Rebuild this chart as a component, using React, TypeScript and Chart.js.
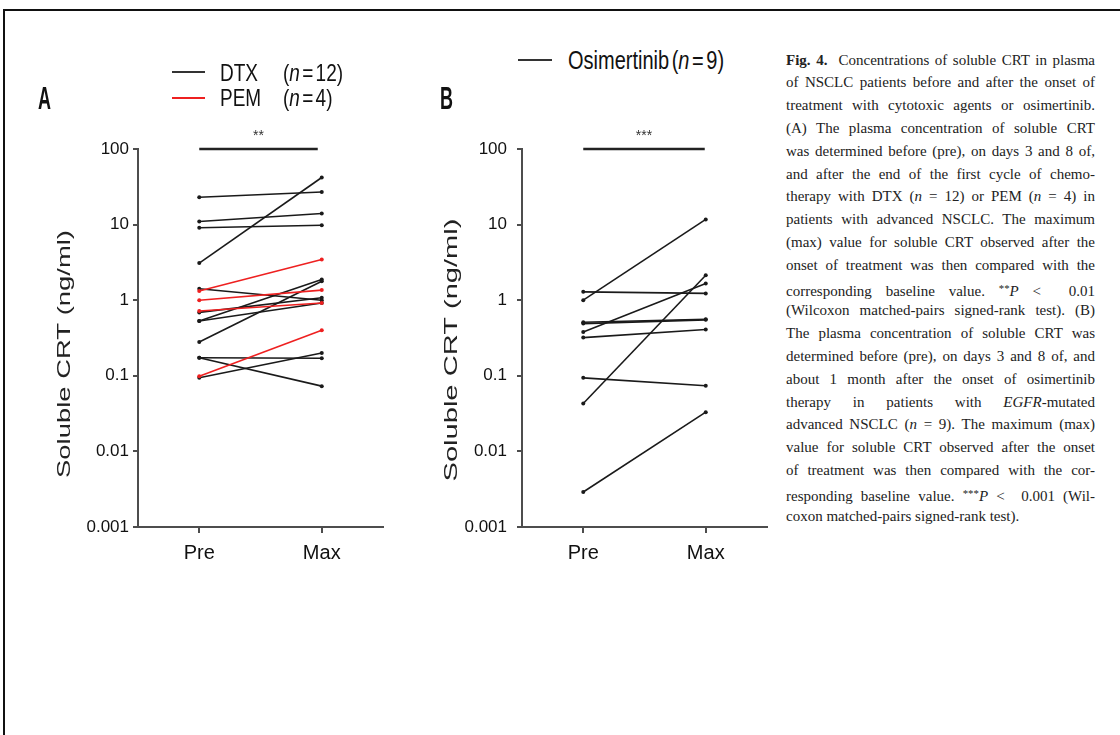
import React, { useEffect, useRef } from 'react';
import { Chart, registerables } from 'chart.js';

Chart.register(...registerables);

// ---------------- data ----------------
const categories = ['Pre', 'Max'];
const yTickValues = [0.001, 0.01, 0.1, 1, 10, 100];
const yTickLabels = ['0.001', '0.01', '0.1', '1', '10', '100'];
const yAxisTitle = 'Soluble CRT (ng/ml)';

// Panel A – DTX (n = 12)
const dtxPre = [23, 11, 9.1, 3.1, 1.42, 0.69, 0.53, 0.53, 0.28, 0.173, 0.173, 0.094];
const dtxMax = [27, 14, 9.8, 42, 1.0, 1.08, 1.88, 0.92, 1.78, 0.171, 0.073, 0.2];
// Panel A – PEM (n = 4)
const pemPre = [1.32, 1.0, 0.72, 0.099];
const pemMax = [3.45, 1.36, 0.92, 0.4];
// Panel B – Osimertinib (n = 9)
const osiPre = [1.0, 1.29, 0.38, 0.51, 0.49, 0.32, 0.094, 0.043, 0.0029];
const osiMax = [11.7, 1.23, 1.66, 0.56, 0.55, 0.41, 0.074, 2.14, 0.033];

const sigValue = 100;
const sigLabels = ['**', '***'];
const panelLetters = ['A', 'B'];
const groupNames = ['DTX', 'PEM', 'Osimertinib'];

// ---------------- styles ----------------
const BLACK = '#1a1a1a';
const RED = '#ee2020';
const AXIS = '#4d4d4d';
const SANS = '"Liberation Sans", Arial, Helvetica, sans-serif';
const SERIF = '"Liberation Serif", "Times New Roman", serif';

const lineDs = (pre: number[], max: number[], color: string) =>
  pre.map((p, i) => ({
    data: [p, max[i]],
    borderColor: color,
    backgroundColor: color,
    pointBackgroundColor: color,
    pointBorderColor: color,
    borderWidth: 1.6,
    pointRadius: 2,
    pointBorderWidth: 0,
    tension: 0,
    fill: false,
    clip: false as any,
  }));

const annotPlugin = {
  id: 'annot',
  afterDraw(chart: any, _args: any, opts: any) {
    const { ctx, chartArea } = chart;
    const x = chart.scales.x;
    const y = chart.scales.y;
    const yb = y.getPixelForValue(opts.sigValue);
    const x0 = x.getPixelForValue(0);
    const x1 = x.getPixelForValue(1);
    ctx.save();
    ctx.strokeStyle = '#222';
    ctx.lineWidth = 2.5;
    ctx.beginPath();
    ctx.moveTo(x0, yb);
    ctx.lineTo(x1 - opts.barInset, yb);
    ctx.stroke();
    ctx.fillStyle = '#333';
    ctx.font = `14px ${SANS}`;
    ctx.textAlign = 'center';
    ctx.textBaseline = 'middle';
    ctx.fillText(opts.sigLabel, (x0 + x1 - opts.barInset) / 2, yb - 13);

    // stretched y-axis title
    const t = chart.options.scales.y.title.text;
    ctx.font = `18px ${SANS}`;
    const w = ctx.measureText(t).width;
    ctx.translate(chartArea.left - opts.titleOffsetX, (chartArea.top + chartArea.bottom) / 2 + opts.titleOffsetY);
    ctx.rotate(-Math.PI / 2);
    ctx.scale(opts.titleLength / w, 1);
    ctx.fillStyle = '#222';
    ctx.fillText(t, 0, 0);
    ctx.restore();
  },
};

type PCProps = {
  left: number; top: number; width: number; height: number;
  datasets: any[]; yWidth: number; padRight: number; tickPad: number;
  sigLabel: string; titleOffsetX: number; titleOffsetY: number; titleLength: number; barInset: number;
};

function PairChart(p: PCProps) {
  const ref = useRef<HTMLCanvasElement>(null);
  useEffect(() => {
    const chart = new Chart(ref.current as HTMLCanvasElement, {
      type: 'line',
      data: { labels: categories, datasets: p.datasets },
      options: {
        responsive: false,
        maintainAspectRatio: false,
        animation: false,
        layout: { padding: { left: 0, right: p.padRight, top: 39, bottom: 0 } },
        plugins: {
          legend: { display: false },
          tooltip: { enabled: false },
          annot: {
            sigValue,
            sigLabel: p.sigLabel,
            titleOffsetX: p.titleOffsetX,
            titleOffsetY: p.titleOffsetY,
            titleLength: p.titleLength,
            barInset: p.barInset,
          },
        } as any,
        scales: {
          x: {
            type: 'category',
            offset: true,
            grid: { display: true, drawOnChartArea: false, drawTicks: true, tickLength: 6, color: AXIS, lineWidth: 2 },
            border: { display: true, color: AXIS, width: 2 },
            ticks: { color: '#111', font: { size: 20, family: SANS }, padding: 8 },
            afterFit: (s: any) => { s.height = 73; },
          },
          y: {
            type: 'logarithmic',
            min: 0.001,
            max: 100,
            afterBuildTicks: (s: any) => { s.ticks = yTickValues.map((v) => ({ value: v })); },
            ticks: {
              autoSkip: false,
              color: '#111',
              font: { size: 17, family: SANS },
              padding: p.tickPad,
              callback: (v: any) => {
                const i = yTickValues.indexOf(Number(v));
                return i >= 0 ? yTickLabels[i] : '';
              },
            },
            grid: { display: true, drawOnChartArea: false, drawTicks: true, tickLength: 5, color: AXIS, lineWidth: 2 },
            border: { display: true, color: AXIS, width: 2 },
            title: { display: false, text: yAxisTitle },
            afterFit: (s: any) => { s.width = p.yWidth; },
          } as any,
        },
      },
      plugins: [annotPlugin as any],
    });
    return () => chart.destroy();
  }, []);
  return (
    <canvas
      ref={ref}
      width={p.width}
      height={p.height}
      style={{ position: 'absolute', left: p.left, top: p.top, width: p.width, height: p.height }}
    />
  );
}

const Stretch = (props: { left: number; cy: number; size: number; scale: number; bold?: boolean; children: React.ReactNode; ws?: number }) => (
  <div
    style={{
      position: 'absolute',
      left: props.left,
      top: props.cy - props.size,
      height: props.size * 2,
      lineHeight: `${props.size * 2}px`,
      fontFamily: SANS,
      fontSize: props.size,
      fontWeight: props.bold ? 700 : 400,
      color: '#111',
      whiteSpace: 'nowrap',
      wordSpacing: props.ws ?? 0,
      transform: `scaleY(${props.scale})`,
      transformOrigin: '50% 50%',
    }}
  >
    {props.children}
  </div>
);

const LegendLine = (props: { left: number; cy: number; width: number; color: string }) => (
  <div style={{ position: 'absolute', left: props.left, top: props.cy - 1, width: props.width, height: 2, background: props.color }} />
);

const Ast = (props: { s: string }) => (
  <span style={{ fontSize: '0.72em', verticalAlign: '0.35em' }}>{props.s}</span>
);

const captionLines: React.ReactNode[] = [
  <><b>Fig. 4.</b>{'\u00a0 '}Concentrations of soluble CRT in plasma</>,
  <>of NSCLC patients before and after the onset of</>,
  <>treatment with cytotoxic agents or osimertinib.</>,
  <>(A) The plasma concentration of soluble CRT</>,
  <>was determined before (pre), on days 3 and 8 of,</>,
  <>and after the end of the first cycle of chemo-</>,
  <>therapy with DTX (<i>n</i> = 12) or PEM (<i>n</i> = 4) in</>,
  <>patients with advanced NSCLC. The maximum</>,
  <>(max) value for soluble CRT observed after the</>,
  <>onset of treatment was then compared with the</>,
  <>corresponding baseline value. <Ast s="**" /><i>P</i> {'<\u00a0'} 0.01</>,
  <>(Wilcoxon matched-pairs signed-rank test). (B)</>,
  <>The plasma concentration of soluble CRT was</>,
  <>determined before (pre), on days 3 and 8 of, and</>,
  <>about 1 month after the onset of osimertinib</>,
  <>therapy in patients with <i>EGFR</i>-mutated</>,
  <>advanced NSCLC (<i>n</i> = 9). The maximum (max)</>,
  <>value for soluble CRT observed after the onset</>,
  <>of treatment was then compared with the cor-</>,
  <>responding baseline value. <Ast s="***" /><i>P</i> {'<\u00a0'} 0.001 (Wil-</>,
  <>coxon matched-pairs signed-rank test).</>,
];

export default function App() {
  const dsA = [...lineDs(pemPre, pemMax, RED), ...lineDs(dtxPre, dtxMax, BLACK)];
  const dsB = lineDs(osiPre, osiMax, BLACK);
  const LH = 22.8;
  return (
    <div style={{ position: 'absolute', left: 0, top: 0, width: 1120, height: 735, background: '#fff', overflow: 'hidden' }}>
      {/* frame */}
      <div style={{ position: 'absolute', left: 3, top: 9, width: 1117, height: 726, borderTop: '2px solid #111', borderLeft: '2px solid #111', boxSizing: 'border-box' }} />

      <PairChart left={18} top={110} width={382} height={490} datasets={dsA} yWidth={120} padRight={17} tickPad={4}
        sigLabel={sigLabels[0]} titleOffsetX={73} titleOffsetY={16} titleLength={248} barInset={4} />
      <PairChart left={400} top={110} width={382} height={490} datasets={dsB} yWidth={122} padRight={15} tickPad={10}
        sigLabel={sigLabels[1]} titleOffsetX={70} titleOffsetY={12} titleLength={263} barInset={1} />

      {/* panel letters */}
      <Stretch left={38} cy={99} size={18} scale={1.7} bold>{panelLetters[0]}</Stretch>
      <Stretch left={440} cy={99} size={18} scale={1.7} bold>{panelLetters[1]}</Stretch>

      {/* legend A */}
      <LegendLine left={172} cy={72} width={33} color="#333" />
      <Stretch left={220} cy={73} size={19} scale={1.25}>{groupNames[0]}</Stretch>
      <Stretch left={283} cy={73} size={19} scale={1.25} ws={-3}>(<i>n</i> = {dtxPre.length})</Stretch>
      <LegendLine left={172} cy={98} width={33} color={RED} />
      <Stretch left={220} cy={98} size={19} scale={1.25}>{groupNames[1]}</Stretch>
      <Stretch left={283} cy={98} size={19} scale={1.25} ws={-3}>(<i>n</i> = {pemPre.length})</Stretch>

      {/* legend B */}
      <LegendLine left={518} cy={60} width={34} color="#333" />
      <Stretch left={568} cy={60} size={20} scale={1.25} ws={-3}>{groupNames[2]} (<i>n</i> = {osiPre.length})</Stretch>

      {/* caption */}
      <div style={{ position: 'absolute', left: 786, top: 48.6, width: 309, fontFamily: SERIF, fontSize: 15, color: '#222' }}>
        {captionLines.map((ln, i) => (
          <div
            key={i}
            style={{
              height: LH,
              lineHeight: `${LH}px`,
              textAlign: 'justify',
              textAlignLast: i < captionLines.length - 1 ? 'justify' : 'left',
            } as any}
          >
            {ln}
          </div>
        ))}
      </div>
    </div>
  );
}
